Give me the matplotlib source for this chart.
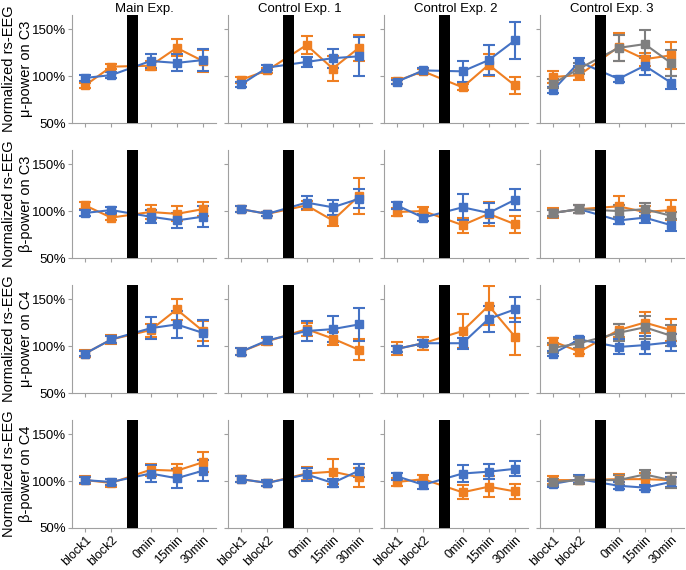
import numpy as np
import matplotlib.pyplot as plt

plt.rcParams['font.family'] = ['Liberation Sans', 'DejaVu Sans']
plt.rcParams['font.size'] = 9.5

experiments = ['Main Exp.', 'Control Exp. 1', 'Control Exp. 2', 'Control Exp. 3']
row_labels = ['Normalized rs-EEG\nμ-power on C3', 'Normalized rs-EEG\nβ-power on C3',
              'Normalized rs-EEG\nμ-power on C4', 'Normalized rs-EEG\nβ-power on C4']
conditions = ['block1', 'block2', '0min', '15min', '30min']
xpos = [1, 2, 3.5, 4.5, 5.5]

# mu power C3, one list per experiment
mu_c3_orange = [[90, 110, 111, 130, 116], [96, 106, 133, 108, 130], [95, 105, 88, 112, 90], [99, 101, 131, 118, 122]]
mu_c3_orange_err = [[3, 3, 5, 9, 12], [3, 3, 10, 13, 14], [3, 3, 3, 12, 9], [6, 5, 15, 7, 14]]
mu_c3_blue = [[98, 101, 116, 114, 117], [91, 109, 115, 119, 121], [94, 106, 105, 117, 138], [85, 115, 97, 111, 93]]
mu_c3_blue_err = [[3, 3, 7, 9, 12], [3, 3, 5, 10, 21], [2, 3, 11, 16, 20], [3, 4, 3, 10, 7]]
mu_c3_gray = [92, 108, 130, 134, 114]
mu_c3_gray_err = [5, 6, 14, 15, 14]

# beta power C3
beta_c3_orange = [[106, 93, 99, 97, 102], [102, 97, 106, 90, 116], [99, 100, 85, 97, 86], [98, 102, 105, 99, 101]]
beta_c3_orange_err = [[3.5, 3, 7, 8, 7.5], [3, 2, 5, 6, 19], [4, 4, 8, 13, 9], [5, 4, 11, 6, 11]]
beta_c3_blue = [[98, 101, 94, 90, 94], [102, 97, 109, 104, 113], [106, 93, 104, 98, 112], [98, 102, 90, 93, 85]]
beta_c3_blue_err = [[3, 3, 7, 8, 11], [3, 2, 7, 8, 10], [4, 4, 14, 11, 11], [3, 4, 4, 6, 6]]
beta_c3_gray = [98, 102, 100, 102, 95]
beta_c3_gray_err = [3, 4, 6, 7, 4]

# mu power C4
mu_c4_orange = [[92, 107, 117, 139, 116], [94, 105, 118, 108, 96], [97, 103, 116, 143, 110], [105, 94, 117, 125, 117]]
mu_c4_orange_err = [[4, 5, 7, 11, 11], [4, 4, 7, 7, 11], [7, 7, 18, 21, 20], [4, 3, 7, 11, 12]]
mu_c4_blue = [[92, 107, 119, 123, 114], [94, 106, 116, 118, 123], [97, 103, 103, 129, 139], [92, 107, 99, 101, 104]]
mu_c4_blue_err = [[3, 4, 12, 14, 14], [4, 4, 11, 14, 18], [3, 3, 6, 14, 13], [3, 3, 8, 10, 9]]
mu_c4_gray = [98, 103, 114, 120, 111]
mu_c4_gray_err = [5, 5, 9, 12, 11]

# beta power C4
beta_c4_orange = [[101, 98, 112, 111, 120], [102, 98, 108, 110, 104], [99, 102, 88, 94, 89], [101, 101, 102, 102, 101]]
beta_c4_orange_err = [[4, 4, 6.5, 7, 10.5], [3, 3, 7, 13, 10], [4, 4, 7.5, 11, 8], [4, 4, 6, 7, 8]]
beta_c4_blue = [[101, 99, 108, 103, 111], [102, 98, 107, 98, 111], [105, 96, 108, 110, 113], [97, 102, 95, 93, 99]]
beta_c4_blue_err = [[3, 3, 9, 10, 11], [3, 3, 7, 4, 7], [4, 4, 9, 8, 8], [3, 4, 4, 3, 5]]
beta_c4_gray = [99, 101, 101, 107, 101]
beta_c4_gray_err = [3, 4, 5, 5, 8]

rows = [
    (mu_c3_orange, mu_c3_orange_err, mu_c3_blue, mu_c3_blue_err, mu_c3_gray, mu_c3_gray_err),
    (beta_c3_orange, beta_c3_orange_err, beta_c3_blue, beta_c3_blue_err, beta_c3_gray, beta_c3_gray_err),
    (mu_c4_orange, mu_c4_orange_err, mu_c4_blue, mu_c4_blue_err, mu_c4_gray, mu_c4_gray_err),
    (beta_c4_orange, beta_c4_orange_err, beta_c4_blue, beta_c4_blue_err, beta_c4_gray, beta_c4_gray_err),
]

orange = '#EF7F22'
blue = '#4472C4'
gray = '#7F7F7F'

W, H = 686, 570
fig = plt.figure(figsize=(W / 100, H / 100), dpi=100)


def draw(ax, y, e, color):
    ax.errorbar(xpos, y, yerr=e, color=color, marker='s', markersize=5.5,
                linewidth=1.5, elinewidth=1.5, capsize=4.5, capthick=1.5, zorder=3)


for r, (o, oe, b, be, g, ge) in enumerate(rows):
    for c in range(4):
        left = (72 + 156 * c) / W
        bottom = 1 - (15 + 135 * r + 108) / H
        ax = fig.add_axes([left, bottom, 144 / W, 108 / H])
        draw(ax, o[c], oe[c], orange)
        draw(ax, b[c], be[c], blue)
        if c == 3:
            draw(ax, g, ge, gray)
        ax.axvspan(2.6, 3.03, color='black', zorder=5, linewidth=0)
        ax.set_xlim(0.5, 6)
        ax.set_ylim(50, 165)
        ax.set_yticks([50, 100, 150])
        ax.set_xticks(xpos)
        for s in ['top', 'right']:
            ax.spines[s].set_visible(False)
        for s in ['left', 'bottom']:
            ax.spines[s].set_color('#A0A0A0')
        ax.tick_params(direction='out', length=3, color='#A0A0A0', labelsize=9.5)
        ax.tick_params(axis='y', pad=1.5)
        ax.tick_params(axis='x', labelsize=9, pad=1)
        if c == 0:
            ax.set_yticklabels(['50%', '100%', '150%'])
            ax.set_ylabel(row_labels[r], fontsize=10.5, linespacing=1.25)
            ax.yaxis.set_label_coords(-0.27, 0.5)
        else:
            ax.set_yticklabels([])
        if r == 3:
            ax.set_xticklabels(conditions, rotation=45, ha='right', rotation_mode='anchor')
        else:
            ax.set_xticklabels([])
        if r == 0:
            ax.set_title(experiments[c], fontsize=9.5, pad=2)

fig.savefig('out.png', dpi=100)
